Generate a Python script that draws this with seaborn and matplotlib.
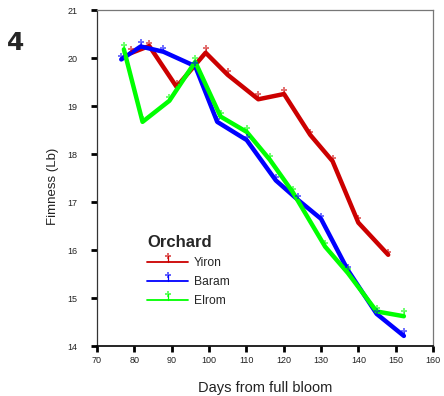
import numpy as np
import pandas as pd
import matplotlib
matplotlib.use("Agg")
import matplotlib.pyplot as plt
import seaborn as sns
from matplotlib.lines import Line2D
from matplotlib.legend_handler import HandlerBase

# ---- data ----
orchards = ["Yiron", "Baram", "Elrom"]
yiron_days = [79.0, 84.0, 91.3, 99.1, 105.0, 113.2, 120.1, 127.1, 133.1, 140.0, 148.0]
yiron_firm = [20.10, 20.25, 19.40, 20.11, 19.65, 19.14, 19.25, 18.40, 17.85, 16.57, 15.90]
yiron_err = [0.08, 0.06, 0.07, 0.09, 0.07, 0.10, 0.08, 0.05, 0.06, 0.09, 0.05]

baram_days = [76.5, 81.7, 87.8, 96.3, 102.2, 110.1, 117.9, 123.9, 130.0, 137.2, 144.9, 152.2]
baram_firm = [19.97, 20.24, 20.13, 19.83, 18.67, 18.29, 17.45, 17.04, 16.65, 15.58, 14.67, 14.21]
baram_err = [0.08, 0.09, 0.08, 0.07, 0.06, 0.06, 0.07, 0.08, 0.06, 0.06, 0.05, 0.10]

elrom_days = [77.2, 82.2, 89.4, 96.3, 103.1, 110.1, 116.3, 122.4, 131.1, 137.2, 144.9, 152.2]
elrom_firm = [20.18, 18.67, 19.11, 19.92, 18.78, 18.46, 17.88, 17.21, 16.07, 15.52, 14.72, 14.62]
elrom_err = [0.10, 0.06, 0.08, 0.08, 0.07, 0.08, 0.07, 0.06, 0.07, 0.08, 0.07, 0.10]

x_ticks = [70, 80, 90, 100, 110, 120, 130, 140, 150, 160]
y_ticks = [14, 15, 16, 17, 18, 19, 20, 21]

colors = {"Yiron": "#CC0000", "Baram": "#0000FF", "Elrom": "#00FF00"}

series = {
    "Yiron": (yiron_days, yiron_firm, yiron_err),
    "Baram": (baram_days, baram_firm, baram_err),
    "Elrom": (elrom_days, elrom_firm, elrom_err),
}

rows = []
for name in orchards:
    d, f, e = series[name]
    for di, fi, ei in zip(d, f, e):
        rows.append({"Orchard": name, "day": di, "firm": fi, "err": ei})
df = pd.DataFrame(rows)

sns.set_theme(style="white")
plt.rcParams["font.family"] = ["Liberation Sans", "DejaVu Sans"]

fig = plt.figure(figsize=(4.44, 3.96), dpi=100)
ax = fig.add_axes([97 / 444, 1 - 346 / 396, 336 / 444, 336 / 396])

# error bars (upward stems)
for name in orchards:
    sub = df[df.Orchard == name]
    ax.vlines(sub.day, sub.firm, sub.firm + sub.err, color=colors[name], lw=0.8,
              alpha=0.6, zorder=2)

sns.lineplot(data=df, x="day", y="firm", hue="Orchard", palette=colors,
             hue_order=orchards, linewidth=3.2, sort=False, estimator=None,
             legend=False, ax=ax, zorder=3)

for name in orchards:
    sub = df[df.Orchard == name]
    ax.scatter(sub.day, sub.firm + sub.err, marker="P", s=17, color=colors[name],
               alpha=0.55, linewidths=0, zorder=4)

ax.set_xlim(70, 160)
ax.set_ylim(14, 21)
ax.set_xticks(x_ticks)
ax.set_yticks(y_ticks)
ax.set_xticklabels([str(v) for v in x_ticks])
ax.set_yticklabels([str(v) for v in y_ticks])
ax.tick_params(axis="both", which="major", direction="out", length=4, width=2,
               color="black", labelsize=6.5, labelcolor="#222222",
               bottom=True, left=True, top=False, right=False)
ax.tick_params(axis="y", pad=10)
ax.tick_params(axis="x", pad=3)

for side in ["top", "right", "left"]:
    ax.spines[side].set_color("#777777")
    ax.spines[side].set_linewidth(0.9)
ax.spines["left"].set_color("#333333")
ax.spines["bottom"].set_color("black")
ax.spines["bottom"].set_linewidth(1.2)

ax.set_xlabel("")
ax.set_ylabel("")
fig.text(265 / 444, 1 - 388 / 396, "Days from full bloom", ha="center", va="center",
         fontsize=10.5, color="#222222")
fig.text(53 / 444, 1 - 186 / 396, "Fimness (Lb)", ha="center", va="center",
         rotation=90, fontsize=9.5, color="#222222")
fig.text(16 / 444, 1 - 43 / 396, "4", ha="center", va="center", fontsize=18,
         fontweight="bold", family="DejaVu Sans")


class StemHandler(HandlerBase):
    def create_artists(self, legend, orig_handle, xdescent, ydescent, width,
                       height, fontsize, trans):
        c = orig_handle.get_color()
        y = (height - ydescent) / 2.0
        x0 = -xdescent
        xm = x0 + width / 2.0
        l1 = Line2D([x0, x0 + width], [y, y], color=c, lw=1.3, transform=trans)
        l2 = Line2D([xm, xm], [y, y + 4], color=c, lw=0.9, transform=trans)
        l3 = Line2D([xm], [y + 4], marker="P", markersize=4, color=c, alpha=0.6,
                    markeredgewidth=0, transform=trans)
        return [l1, l2, l3]


handles = [Line2D([], [], color=colors[n]) for n in orchards]
leg = fig.legend(handles, orchards, title="Orchard", loc="upper left",
                 bbox_to_anchor=(147 / 444, 1 - 235 / 396), frameon=False,
                 fontsize=8.7, handlelength=3.4, handletextpad=0.45,
                 labelspacing=0.58, borderpad=0, borderaxespad=0,
                 alignment="left",
                 handler_map={Line2D: StemHandler()})
leg.get_title().set_fontweight("bold")
leg.get_title().set_fontsize(12)

fig.savefig("out.png", dpi=100)
